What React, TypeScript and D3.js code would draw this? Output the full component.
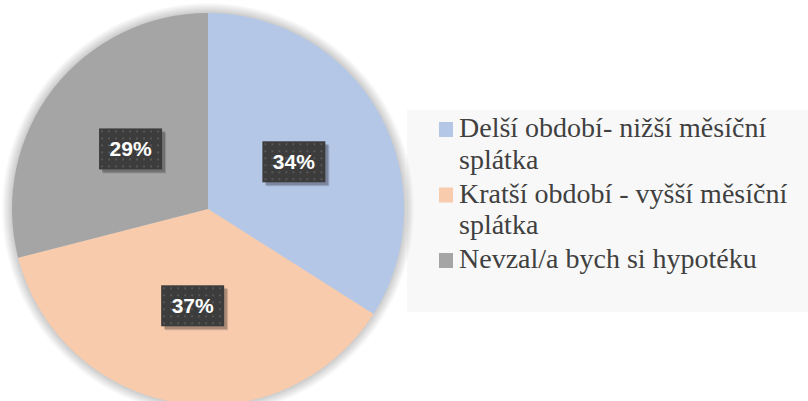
import React from 'react'
import * as d3 from 'd3'

const legendLines = [['Delší období- nižší měsíční', 'splátka'], ['Kratší období - vyšší měsíční', 'splátka'], ['Nevzal/a bych si hypotéku']]
const values = [34, 37, 29]
const colors = ['#B4C7E7', '#F8CBAD', '#A5A5A5']

const width = 808
const height = 401
const cx = 208
const cy = 209
const radius = 196

// data labels sit at half the radius
const labelRadius = 0.5
const boxW = 63
const boxH = 41
const dotStep = 7

export default function App() {
  const pie = d3.pie<number>().sort(null).value(d => d)
  const arcs = pie(values)
  const arc = d3.arc<d3.PieArcDatum<number>>().innerRadius(0).outerRadius(radius)
  const labelArc = d3.arc<d3.PieArcDatum<number>>().innerRadius(radius * labelRadius).outerRadius(radius * labelRadius)
  const total = d3.sum(values)

  const lineH = 31.5
  const itemGap = 2.5
  let y = 137
  const legendRows = legendLines.map((lines, i) => {
    const row = { i, lines, y }
    y += lines.length * lineH + itemGap
    return row
  })

  const glow = d3.range(1, 11)
  const dotsX = d3.range(2, boxW - 2, dotStep)
  const dotsY = d3.range(2, boxH - 2, dotStep)

  return (
    <svg width={width} height={height} style={{ position: 'absolute', left: 0, top: 0 }}>
      <text x={459} y={137} fill="#404040" fontFamily="Liberation Serif" fontSize={28}>{legendLines[0][0]}</text>
      <text x={459} y={168.5} fill="#404040" fontFamily="Liberation Serif" fontSize={28}>{legendLines[0][1]}</text>
      <rect width={width} height={height} fill="#ffffff" />
      <rect x={407} y={110} width={401} height={202} fill="#f8f8f8" />

      <g transform={`translate(${cx},${cy})`}>
        {glow.map(k => (
          <circle key={k} r={radius + k} fill="#000000" fillOpacity={0.018} />
        ))}
        {arcs.map((a, i) => (
          <path key={i} d={arc(a) ?? ''} fill={colors[i]} />
        ))}
        {arcs.map((a, i) => {
          const [lx, ly] = labelArc.centroid(a)
          return (
            <g key={i} transform={`translate(${lx - boxW / 2},${ly - boxH / 2})`}>
              <rect x={4} y={4} width={boxW} height={boxH} fill="#000000" fillOpacity={0.12} />
              <rect x={3} y={3} width={boxW} height={boxH} fill="#000000" fillOpacity={0.22} />
              <rect width={boxW} height={boxH} fill="#3c3c3c" />
              {dotsY.map(dy => dotsX.map(dx => (
                <rect key={dx + '_' + dy} x={dx} y={dy} width={2} height={2} fill="#575757" />
              )))}
              <text x={boxW / 2} y={boxH / 2} textAnchor="middle" dy="0.36em" fill="#ffffff" fontFamily="Liberation Sans" fontWeight="bold" fontSize={21}>
                {`${Math.round((values[i] / total) * 100)}%`}
              </text>
            </g>
          )
        })}
      </g>

      {legendRows.map(r => (
        <rect key={'m' + r.i} x={439} y={r.y - 15} width={14} height={15} fill={colors[r.i]} />
      ))}
      {legendRows.flatMap(r =>
        r.lines.map((t, j) => (
          <text key={r.i + '-' + j} x={459} y={r.y + j * lineH} fill="#404040" fontFamily="Liberation Serif" fontSize={28}>{t}</text>
        ))
      )}
    </svg>
  )
}
